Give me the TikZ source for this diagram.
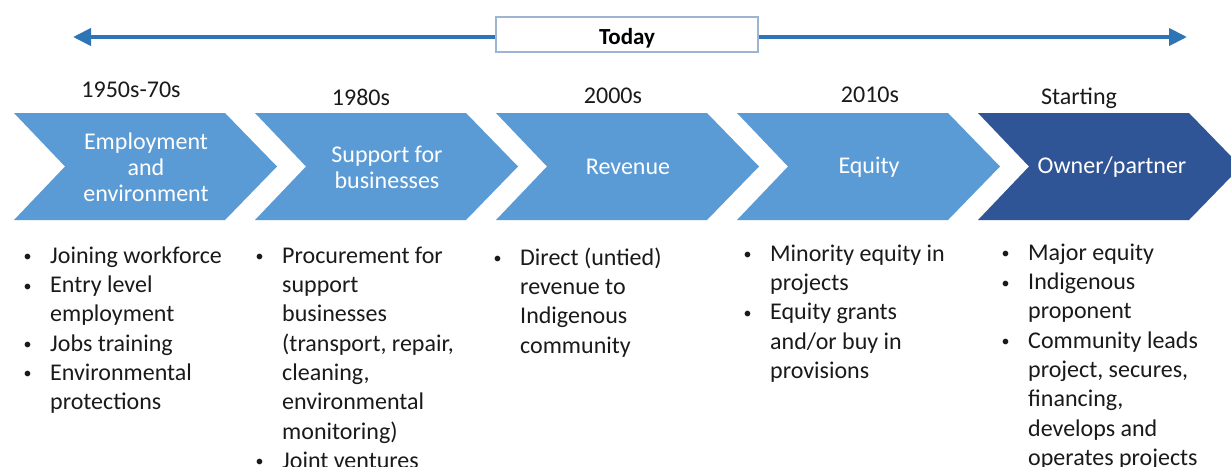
\documentclass[tikz,border=0pt]{standalone}
\usepackage{fontspec}
\setmainfont{Carlito}
\usetikzlibrary{arrows.meta}
\definecolor{lightchev}{HTML}{5B9BD5}
\definecolor{darkchev}{HTML}{2F5597}
\definecolor{arrowblue}{HTML}{2E75B6}
\definecolor{boxedge}{HTML}{9DB5D3}
\definecolor{txt}{HTML}{1A1A1A}
\newcommand{\bl}{\makebox[29pt][l]{\hspace*{2.5pt}\raisebox{1.5pt}{\fontsize{16}{16}\selectfont•}}}
\newcommand{\ind}{\hspace*{29pt}}
\begin{document}
\begin{tikzpicture}[x=1pt,y=-1pt,
  yearlbl/.style={font=\fontsize{24}{29.3}\selectfont, text=txt, inner sep=0pt},
  chevtext/.style={font=\fontsize{24}{26}\selectfont, text=white, align=center, inner sep=0pt},
  bulletcol/.style={font=\fontsize{24}{29.3}\selectfont, text=txt, align=left, inner sep=0pt, anchor=north west},
  todaybox/.style={draw=boxedge, line width=1.5pt, fill=white, minimum width=262pt, minimum height=35pt, inner sep=0pt, font=\fontsize{23}{26}\selectfont\bfseries, text=black},
  timeline/.style={draw=arrowblue, line width=4pt, -{Triangle[length=18pt,width=17pt]}}
]
\useasboundingbox (0,0) rectangle (1231,466);
\clip (0,0) rectangle (1231,466);
\fill[white] (0,0) rectangle (1231,466);

% top timeline
\node[todaybox] (today) at (627,34.5) {\raisebox{-3.5pt}[\height][\depth]{Today}};
\coordinate (lefttip) at (73,37);
\coordinate (righttip) at (1187,37);
\draw[timeline] (today.west |- 0,37) -- (lefttip);
\draw[timeline] (today.east |- 0,37) -- (righttip);

% chevrons
\foreach \x/\col in {14/lightchev,255/lightchev,496/lightchev,737/lightchev,978/darkchev}{
  \fill[\col] (\x,113) -- (\x+211,113) -- (\x+263,166.5) -- (\x+211,220) -- (\x,220) -- (\x+51,166.5) -- cycle;
}

\node[chevtext] (c1) at (146,167) {Employment\\and\\environment};
\node[chevtext] (c2) at (387,167) {Support for\\businesses};
\node[chevtext] (c3) at (628,167) {Revenue};
\node[chevtext] (c4) at (869,167) {Equity};
\node[chevtext] (c5) at (1112,167) {Owner/partner};

% year labels
\node[yearlbl] (y1) at (131,90) {1950s-70s};
\node[yearlbl] (y2) at (361,97) {1980s};
\node[yearlbl] (y3) at (613,96) {2000s};
\node[yearlbl] (y4) at (870,95) {2010s};
\node[yearlbl] (y5) at (1079,98) {Starting};

% bullet lists
\node[bulletcol] (b1) at (21,243) {\rule{0pt}{20pt}\bl Joining workforce\\
\bl Entry level\\ \ind employment\\ \bl Jobs training\\ \bl Environmental\\ \ind protections};
\node[bulletcol] (b2) at (253,243) {\rule{0pt}{20pt}\bl Procurement for\\
\ind support\\ \ind businesses\\ \ind (transport, repair,\\ \ind cleaning,\\ \ind environmental\\ \ind monitoring)\\ \bl Joint ventures};
\node[bulletcol] (b3) at (491,245) {\rule{0pt}{20pt}\bl Direct (untied)\\
\ind revenue to\\ \ind Indigenous\\ \ind community};
\node[bulletcol] (b4) at (741,241) {\rule{0pt}{20pt}\bl Minority equity in\\
\ind projects\\ \bl Equity grants\\ \ind and/or buy in\\ \ind provisions};
\node[bulletcol] (b5) at (999,240) {\rule{0pt}{20pt}\bl Major equity\\
\bl Indigenous\\ \ind proponent\\ \bl Community leads\\ \ind project, secures,\\ \ind financing,\\ \ind develops and\\ \ind operates projects};
\end{tikzpicture}
\end{document}
